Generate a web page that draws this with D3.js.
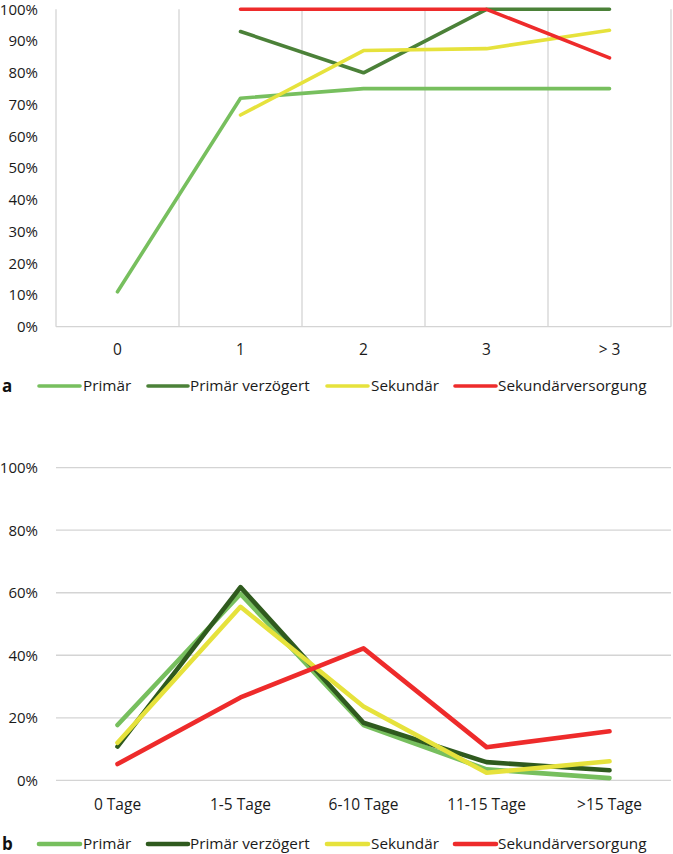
<!DOCTYPE html>
<html lang="de">
<head>
  <meta charset="UTF-8"/>
  <title>Primär / Sekundär</title>
  <script src="https://d3js.org/d3.v7.min.js"></script>
  <style>
    body { margin: 0; background: #fff; }
    svg text { font-family: "Open Sans", "Noto Sans", sans-serif; }
  </style>
</head>
<body>
<script>
  var w = 673;
  var h = 854;

  // chart a: categories and series (null = no value)
  var catsA = ["0", "1", "2", "3", "> 3"];
  var primaerA = [0.11, 0.72, 0.75, 0.75, 0.75];
  var primaerVerzA = [null, 0.93, 0.80, 1.00, 1.00];
  var sekundaerA = [null, 0.667, 0.87, 0.876, 0.934];
  var sekVersA = [null, 1.00, 1.00, 1.00, 0.847];
  var ticksA = [0, 0.1, 0.2, 0.3, 0.4, 0.5, 0.6, 0.7, 0.8, 0.9, 1.0];

  // chart b
  var catsB = ["0 Tage", "1-5 Tage", "6-10 Tage", "11-15 Tage", ">15 Tage"];
  var primaerB = [0.177, 0.596, 0.177, 0.035, 0.007];
  var primaerVerzB = [0.108, 0.618, 0.184, 0.058, 0.032];
  var sekundaerB = [0.12, 0.555, 0.236, 0.024, 0.061];
  var sekVersB = [0.052, 0.265, 0.422, 0.106, 0.157];
  var ticksB = [0, 0.2, 0.4, 0.6, 0.8, 1.0];

  var legendNames = ["Primär", "Primär verzögert", "Sekundär", "Sekundärversorgung"];

  var svg = d3.select("body").append("svg")
          .attr("width", w)
          .attr("height", h);

  var left = 56, right = 671;
  var fmt = d3.format(".0%");

  function drawChart(cfg) {
    var x = d3.scaleBand().domain(cfg.cats).range([left, right]).padding(0);
    var y = d3.scaleLinear().domain([0, 1]).range([cfg.bottom, cfg.top]);
    var g = svg.append("g");

    if (cfg.vgrid) {
      var edges = cfg.cats.map(function(c) { return x(c); }).concat([right]);
      g.selectAll(".vg").data(edges).enter().append("line")
              .attr("x1", function(d) { return d; })
              .attr("x2", function(d) { return d; })
              .attr("y1", y(1))
              .attr("y2", y(0))
              .attr("stroke", "#d4d4d4")
              .attr("stroke-width", 1.3);
      g.append("line")
              .attr("x1", left).attr("x2", right)
              .attr("y1", y(0)).attr("y2", y(0))
              .attr("stroke", "#d4d4d4").attr("stroke-width", 1.3);
    } else {
      g.selectAll(".hg").data(cfg.ticks).enter().append("line")
              .attr("x1", left).attr("x2", right)
              .attr("y1", function(d) { return y(d); })
              .attr("y2", function(d) { return y(d); })
              .attr("stroke", "#d4d4d4")
              .attr("stroke-width", 1.3);
    }

    var yAxis = d3.axisLeft(y).tickValues(cfg.ticks).tickFormat(fmt).tickSize(0).tickPadding(18);
    var ya = g.append("g").attr("transform", "translate(" + left + ",0)").call(yAxis);
    ya.select(".domain").remove();
    ya.selectAll("text").style("font-size", "15px").attr("fill", "#1a1a1a");

    var xAxis = d3.axisBottom(x).tickSize(0).tickPadding(cfg.xpad);
    var xa = g.append("g").attr("transform", "translate(0," + y(0) + ")").call(xAxis);
    xa.select(".domain").remove();
    xa.selectAll("text").style("font-size", "15.5px").attr("fill", "#1a1a1a");

    var line = d3.line()
            .defined(function(d) { return d != null; })
            .x(function(d, i) { return x(cfg.cats[i]) + x.bandwidth() / 2; })
            .y(function(d) { return y(d); });

    cfg.series.forEach(function(s, i) {
      g.append("path")
              .datum(s)
              .attr("d", line)
              .attr("fill", "none")
              .attr("stroke", cfg.colors[i])
              .attr("stroke-width", cfg.lw)
              .attr("stroke-linejoin", "round")
              .attr("stroke-linecap", "round");
    });

    // legend
    var lg = svg.append("g").attr("transform", "translate(0," + cfg.legendY + ")");
    lg.append("text").text(cfg.letter)
            .attr("x", 2).attr("y", 0).attr("dy", "0.35em")
            .style("font-size", "17px").style("font-weight", "bold").attr("fill", "#111");
    var lineX = [39, 148, 327, 455];
    var lineEnd = [80, 188, 368, 496];
    var textX = [83, 190, 371, 498];
    legendNames.forEach(function(n, i) {
      lg.append("line")
              .attr("x1", lineX[i]).attr("x2", lineEnd[i])
              .attr("y1", 0).attr("y2", 0)
              .attr("stroke", cfg.colors[i])
              .attr("stroke-width", cfg.lw)
              .attr("stroke-linecap", "round");
      lg.append("text").text(n)
              .attr("x", textX[i]).attr("y", 0).attr("dy", "0.35em")
              .style("font-size", "15.3px").attr("fill", "#1a1a1a");
    });
  }

  drawChart({
    cats: catsA, ticks: ticksA, top: 9.3, bottom: 326.7, vgrid: true, xpad: 17,
    series: [primaerA, primaerVerzA, sekundaerA, sekVersA],
    colors: ["#77bf5e", "#4b8138", "#e6e23c", "#ee2b2b"],
    lw: 3.6, legendY: 386, letter: "a"
  });

  drawChart({
    cats: catsB, ticks: ticksB, top: 467.7, bottom: 780.3, vgrid: false, xpad: 19,
    series: [primaerB, primaerVerzB, sekundaerB, sekVersB],
    colors: ["#77bf5e", "#2f5a1e", "#e6e23c", "#ee2b2b"],
    lw: 4.6, legendY: 844, letter: "b"
  });
</script>
</body>
</html>
